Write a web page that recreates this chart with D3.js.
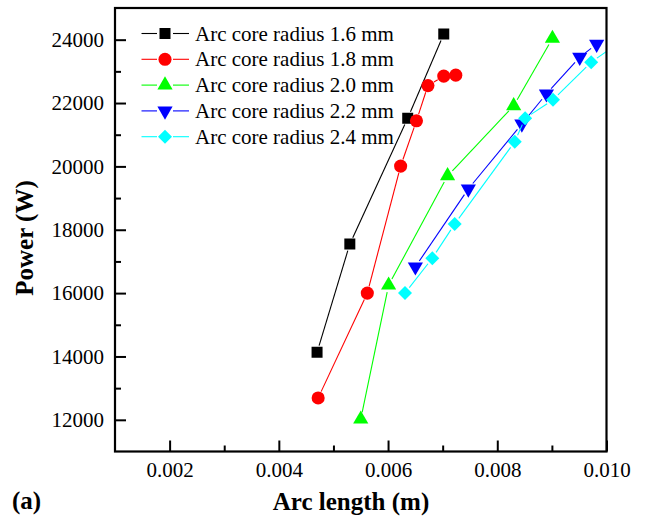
<!DOCTYPE html>
<html>
<head>
<meta charset="utf-8">
<script src="https://cdn.jsdelivr.net/npm/d3@7"></script>
<style>
  html, body { margin: 0; padding: 0; background: #fff; }
  svg { display: block; font-family: "Liberation Serif", "Times New Roman", serif; }
</style>
</head>
<body>
<svg id="chart" width="645" height="519"></svg>
<script>
// ---- data ----
const seriesNames = ["Arc core radius 1.6 mm", "Arc core radius 1.8 mm", "Arc core radius 2.0 mm", "Arc core radius 2.2 mm", "Arc core radius 2.4 mm"];
const seriesColors = ["#000000", "#ff0000", "#00ff00", "#0000ff", "#00ffff"];
const seriesSymbols = ["square", "circle", "triangle", "triangleDown", "diamond"];

const x16 = [0.00470, 0.00530, 0.00636, 0.00702];
const y16 = [14130, 17550, 21520, 24180];

const x18 = [0.00472, 0.00562, 0.00623, 0.00652, 0.00673, 0.00702, 0.00724];
const y18 = [12690, 16000, 20010, 21440, 22550, 22850, 22880];

const x20 = [0.00550, 0.00601, 0.00709, 0.00830, 0.00901];
const y20 = [12020, 16250, 19700, 21910, 24040];

const x22 = [0.00650, 0.00747, 0.00845, 0.00890, 0.00951, 0.00982];
const y22 = [16830, 19290, 21340, 22290, 23450, 23860];

const x24 = [0.00631, 0.00681, 0.00722, 0.00832, 0.00851, 0.00902, 0.00972, 0.01030];
const y24 = [16000, 17100, 18180, 20780, 21520, 22100, 23290, 23990];

const xMajorTicks = [0.002, 0.004, 0.006, 0.008, 0.010];
const xMinorTicks = [0.003, 0.005, 0.007, 0.009];
const yMajorTicks = [12000, 14000, 16000, 18000, 20000, 22000, 24000];
const yMinorTicks = [13000, 15000, 17000, 19000, 21000, 23000];

const xTitle = "Arc length (m)";
const yTitle = "Power (W)";
const panelLabel = "(a)";

// ---- layout ----
const svg = d3.select("#chart");
const L = 115, T = 8, R = 606.5, B = 451.5;

const x = d3.scaleLinear().domain([0.001, 0.010]).range([L, R]);
const y = d3.scaleLinear().domain([11000, 25000]).range([B, T]);

const series = [
  {xs: x16, ys: y16}, {xs: x18, ys: y18}, {xs: x20, ys: y20},
  {xs: x22, ys: y22}, {xs: x24, ys: y24}
].map((s, i) => ({
  name: seriesNames[i], color: seriesColors[i], symbol: seriesSymbols[i],
  points: s.xs.map((v, j) => ({x: v, y: s.ys[j]}))
}));

function symbolPath(type) {
  switch (type) {
    case "square": return d3.symbol().type(d3.symbolSquare).size(121)();
    case "circle": return d3.symbol().type(d3.symbolCircle).size(135)();
    case "triangle": return d3.symbol().type(d3.symbolTriangle).size(100)();
    case "triangleDown": return d3.symbol().type(d3.symbolTriangle).size(100)();
    case "diamond": return d3.symbol().type(d3.symbolSquare).size(98)();
  }
}
function symbolRotate(type) {
  if (type === "triangleDown") return 180;
  if (type === "diamond") return 45;
  return 0;
}

// clip
svg.append("defs").append("clipPath").attr("id", "plotclip")
  .append("rect").attr("x", L).attr("y", T).attr("width", R - L).attr("height", B - T);

const plot = svg.append("g").attr("clip-path", "url(#plotclip)");
const GAP = 7;

series.forEach(s => {
  const pts = s.points.map(p => [x(p.x), y(p.y)]);
  const segs = [];
  for (let i = 0; i < pts.length - 1; i++) {
    const [x1, y1] = pts[i], [x2, y2] = pts[i + 1];
    const len = Math.hypot(x2 - x1, y2 - y1);
    if (len <= 2 * GAP) continue;
    const ux = (x2 - x1) / len, uy = (y2 - y1) / len;
    segs.push([x1 + ux * GAP, y1 + uy * GAP, x2 - ux * GAP, y2 - uy * GAP]);
  }
  plot.append("g").selectAll("line").data(segs).join("line")
    .attr("x1", d => d[0]).attr("y1", d => d[1])
    .attr("x2", d => d[2]).attr("y2", d => d[3])
    .attr("stroke", s.color).attr("stroke-width", 1.1);
  plot.append("g").selectAll("path").data(s.points).join("path")
    .attr("d", symbolPath(s.symbol))
    .attr("transform", d => `translate(${x(d.x)},${y(d.y)}) rotate(${symbolRotate(s.symbol)})`)
    .attr("fill", s.color);
});

// ---- axes ----
const fs = 21;
const xMajor = svg.append("g").attr("transform", `translate(0,${B})`)
  .call(d3.axisBottom(x).tickValues(xMajorTicks).tickSizeInner(-11).tickSizeOuter(0).tickPadding(10.6)
    .tickFormat(d3.format(".3f")));
const xMinor = svg.append("g").attr("transform", `translate(0,${B})`)
  .call(d3.axisBottom(x).tickValues(xMinorTicks).tickSizeInner(-6).tickSizeOuter(0).tickFormat(""));
const yMajor = svg.append("g").attr("transform", `translate(${L},0)`)
  .call(d3.axisLeft(y).tickValues(yMajorTicks).tickSizeInner(-11).tickSizeOuter(0).tickPadding(11)
    .tickFormat(d3.format("d")));
const yMinor = svg.append("g").attr("transform", `translate(${L},0)`)
  .call(d3.axisLeft(y).tickValues(yMinorTicks).tickSizeInner(-6).tickSizeOuter(0).tickFormat(""));

[xMajor, xMinor, yMajor, yMinor].forEach(g => {
  g.select(".domain").remove();
  g.selectAll(".tick line").attr("stroke", "#000").attr("stroke-width", 2);
  g.selectAll(".tick text").attr("font-family", "Liberation Serif").attr("font-size", fs).attr("fill", "#000");
});

// frame
svg.append("rect").attr("x", L).attr("y", T).attr("width", R - L).attr("height", B - T)
  .attr("fill", "none").attr("stroke", "#000").attr("stroke-width", 2.2);

// ---- titles ----
svg.append("text").attr("x", 351).attr("y", 510).attr("text-anchor", "middle")
  .attr("font-size", 25).attr("font-weight", "bold").text(xTitle);
svg.append("text").attr("transform", `translate(33,238) rotate(-90)`).attr("text-anchor", "middle")
  .attr("font-size", 25).attr("font-weight", "bold").text(yTitle);
svg.append("text").attr("x", 12).attr("y", 509)
  .attr("font-size", 25).attr("font-weight", "bold").text(panelLabel);

// ---- legend ----
const leg = svg.append("g");
series.forEach((s, i) => {
  const ly = 33.5 + i * 25.8;
  const g = leg.append("g").attr("transform", `translate(0,${ly})`);
  g.append("line").attr("x1", 141.5).attr("x2", 157).attr("y1", 0).attr("y2", 0)
    .attr("stroke", s.color).attr("stroke-width", 1.1);
  g.append("line").attr("x1", 173).attr("x2", 189).attr("y1", 0).attr("y2", 0)
    .attr("stroke", s.color).attr("stroke-width", 1.1);
  g.append("path").attr("d", symbolPath(s.symbol))
    .attr("transform", `translate(165,0) rotate(${symbolRotate(s.symbol)})`).attr("fill", s.color);
  g.append("text").attr("x", 195).attr("y", 7).attr("font-size", fs).text(s.name);
});
</script>
</body>
</html>
